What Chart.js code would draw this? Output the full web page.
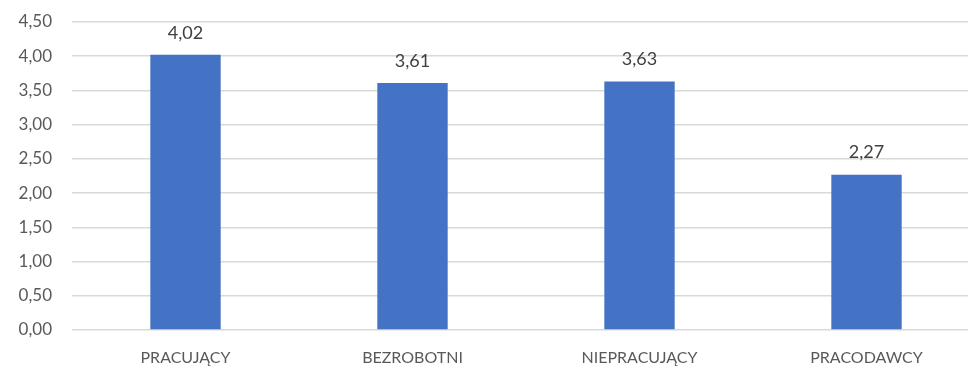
<!DOCTYPE html>
<html>
<head>
<meta charset="utf-8">
<script src="https://cdn.jsdelivr.net/npm/chart.js@4"></script>
<style>
  html, body { margin: 0; padding: 0; background: #fff; overflow: hidden; }
  #wrap { width: 980px; height: 367px; }
</style>
</head>
<body>
<div id="wrap"><canvas id="wykres"></canvas></div>
<script>
  var kategorie = ['PRACUJĄCY', 'BEZROBOTNI', 'NIEPRACUJĄCY', 'PRACODAWCY'];
  var wartosci = [4.02, 3.61, 3.63, 2.27];
  var osY = { min: 0, max: 4.5, krok: 0.5 };

  function pl(v) { return v.toFixed(2).replace('.', ','); }

  // etykiety nad słupkami
  var etykiety = {
    id: 'etykiety',
    afterDatasetsDraw: function (chart) {
      var ctx = chart.ctx;
      var meta = chart.getDatasetMeta(0);
      ctx.save();
      ctx.font = '18px Lato';
      ctx.fillStyle = '#404040';
      ctx.textAlign = 'center';
      ctx.textBaseline = 'bottom';
      meta.data.forEach(function (bar, i) {
        ctx.fillText(pl(wartosci[i]), bar.x, bar.y - 13);
      });
      ctx.restore();
    }
  };

  new Chart(document.getElementById('wykres'), {
    type: 'bar',
    data: {
      labels: kategorie,
      datasets: [{
        data: wartosci,
        backgroundColor: '#4472C4',
        barPercentage: 0.62,
        categoryPercentage: 0.5,
      }]
    },
    plugins: [etykiety],
    options: {
      responsive: true,
      maintainAspectRatio: false,
      animation: false,
      layout: { padding: { top: 22, right: 0, left: 0, bottom: 0 } },
      plugins: {
        legend: { display: false },
        tooltip: { enabled: false },
      },
      scales: {
        x: {
          grid: { display: false },
          border: { display: false },
          ticks: {
            color: '#595959',
            font: { family: 'Lato', size: 16 },
            padding: 10,
            maxRotation: 0,
          },
          afterFit: function (s) { s.height = 37; },
        },
        y: {
          min: osY.min,
          max: osY.max,
          border: { display: false },
          grid: { color: '#d9d9d9', lineWidth: 1.5, drawTicks: false },
          ticks: {
            stepSize: osY.krok,
            color: '#595959',
            font: { family: 'Lato', size: 17 },
            padding: 20,
            callback: function (v) { return pl(v); },
          },
          afterFit: function (s) {
            s.width = 72;
            s.paddingTop = 0;
            s.paddingBottom = 0;
          },
        }
      }
    }
  });
</script>
</body>
</html>
